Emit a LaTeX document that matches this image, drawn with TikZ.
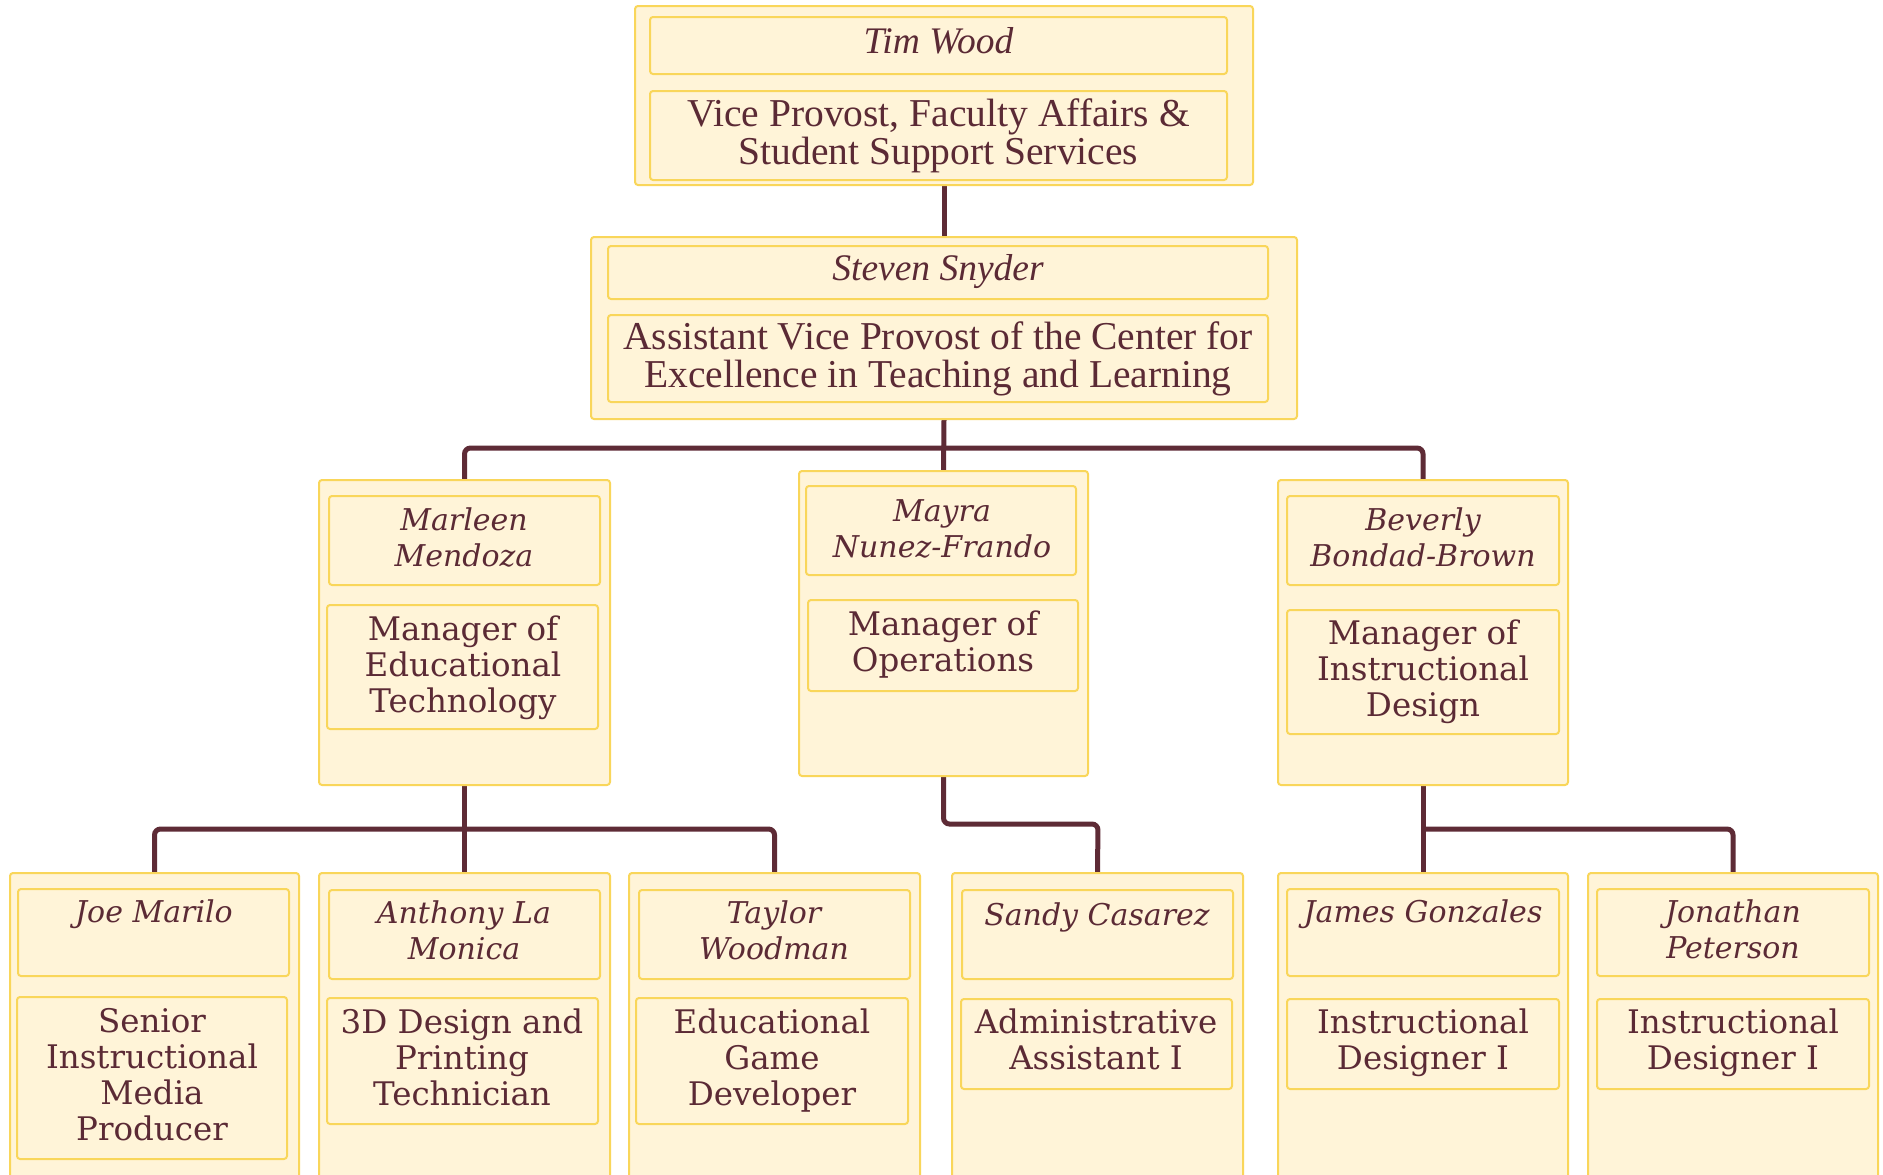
\documentclass[tikz,border=0pt]{standalone}
\usepackage{fontspec}
\setmainfont{DejaVu Serif}
\newfontfamily\topfont{Liberation Serif}
\usetikzlibrary{fit,backgrounds}
\definecolor{txt}{HTML}{5B2A35}
\definecolor{fillc}{HTML}{FFF4D8}
\definecolor{edgec}{HTML}{F9D65A}
\definecolor{connc}{HTML}{5E2B36}
\newcommand\ls[1]{\begin{tabular}[t]{@{}c@{}}#1\end{tabular}}
\begin{document}
\begin{tikzpicture}[x=1pt,y=-1pt,
 box/.style={draw=edgec, fill=fillc, line width=2pt, rounded corners=3pt, inner sep=0pt},
 lowtxt/.style={text=txt, anchor=base, inner sep=0pt, font=\fontsize{32.5}{36}\selectfont},
 lowname/.style={text=txt, anchor=base, inner sep=0pt, font=\fontsize{30}{36}\selectfont\itshape},
 toptxt/.style={text=txt, anchor=base, inner sep=0pt, font=\topfont\fontsize{39.5}{36}\selectfont},
 topname/.style={text=txt, anchor=base, inner sep=0pt, font=\topfont\fontsize{37.5}{36}\selectfont\itshape},
 link/.style={draw=connc, line width=5pt, rounded corners=6pt}]
\useasboundingbox (0,0) rectangle (1883,1175);

% level 0
\node[box, fit={(635,6)(1253,185)}] (tim) {};
\node[box, fit={(650,17)(1227,74)}] (timN) {};
\node[box, fit={(650,91)(1227,180)}] (timT) {};
\node[topname] (timNt) at (938.5,53) {Tim Wood};
\node[toptxt] (timTt) at (938.5,126) {\ls{Vice Provost, Faculty Affairs \&\\Student Support Services}};

% level 1
\node[box, fit={(591,237)(1297,419)}] (steven) {};
\node[box, fit={(608,246)(1268,299)}] (stevenN) {};
\node[box, fit={(608,315)(1268,402)}] (stevenT) {};
\node[topname] (stevenNt) at (938,280) {Steven Snyder};
\node[toptxt] (stevenTt) at (938,349) {\ls{Assistant Vice Provost of the Center for\\Excellence in Teaching and Learning}};

% level 2
\node[box, fit={(319,480)(610,785)}] (marleen) {};
\node[box, fit={(329,496)(600,585)}] (marleenN) {};
\node[box, fit={(327,605)(598,729)}] (marleenT) {};
\node[lowname] (marleenNt) at (464,530) {\ls{Marleen\\Mendoza}};
\node[lowtxt] (marleenTt) at (463,640) {\ls{Manager of\\Educational\\Technology}};

\node[box, fit={(799,471)(1088,776)}] (mayra) {};
\node[box, fit={(806,486)(1076,575)}] (mayraN) {};
\node[box, fit={(808,600)(1078,691)}] (mayraT) {};
\node[lowname] (mayraNt) at (942,521) {\ls{Mayra\\Nunez-Frando}};
\node[lowtxt] (mayraTt) at (943,635) {\ls{Manager of\\Operations}};

\node[box, fit={(1278,480)(1568,785)}] (beverly) {};
\node[box, fit={(1287,496)(1559,585)}] (beverlyN) {};
\node[box, fit={(1287,610)(1559,734)}] (beverlyT) {};
\node[lowname] (beverlyNt) at (1423,530) {\ls{Beverly\\Bondad-Brown}};
\node[lowtxt] (beverlyTt) at (1423,644) {\ls{Manager of\\Instructional\\Design}};

% level 3
\node[box, fit={(10,873)(299,1190)}] (joe) {};
\node[box, fit={(18,889)(289,976)}] (joeN) {};
\node[box, fit={(17,997)(287,1159)}] (joeT) {};
\node[lowname] (joeNt) at (154,922) {Joe Marilo};
\node[lowtxt] (joeTt) at (152,1032) {\ls{Senior\\Instructional\\Media\\Producer}};

\node[box, fit={(319,873)(610,1190)}] (anthony) {};
\node[box, fit={(329,890)(600,979)}] (anthonyN) {};
\node[box, fit={(327,998)(598,1124)}] (anthonyT) {};
\node[lowname] (anthonyNt) at (464,923) {\ls{Anthony La\\Monica}};
\node[lowtxt] (anthonyTt) at (462,1033) {\ls{3D Design and\\Printing\\Technician}};

\node[box, fit={(629,873)(920,1190)}] (taylor) {};
\node[box, fit={(639,890)(910,979)}] (taylorN) {};
\node[box, fit={(636,998)(908,1124)}] (taylorT) {};
\node[lowname] (taylorNt) at (774,923) {\ls{Taylor\\Woodman}};
\node[lowtxt] (taylorTt) at (772,1033) {\ls{Educational\\Game\\Developer}};

\node[box, fit={(952,873)(1243,1190)}] (sandy) {};
\node[box, fit={(962,890)(1233,979)}] (sandyN) {};
\node[box, fit={(961,999)(1232,1089)}] (sandyT) {};
\node[lowname] (sandyNt) at (1097,925) {Sandy Casarez};
\node[lowtxt] (sandyTt) at (1096,1033) {\ls{Administrative\\Assistant I}};

\node[box, fit={(1278,873)(1568,1190)}] (james) {};
\node[box, fit={(1287,889)(1559,976)}] (jamesN) {};
\node[box, fit={(1287,999)(1559,1089)}] (jamesT) {};
\node[lowname] (jamesNt) at (1423,922) {James Gonzales};
\node[lowtxt] (jamesTt) at (1423,1033) {\ls{Instructional\\Designer I}};

\node[box, fit={(1588,873)(1878,1190)}] (jonathan) {};
\node[box, fit={(1597,889)(1869,976)}] (jonathanN) {};
\node[box, fit={(1597,999)(1869,1089)}] (jonathanT) {};
\node[lowname] (jonathanNt) at (1733,922) {\ls{Jonathan\\Peterson}};
\node[lowtxt] (jonathanTt) at (1733,1033) {\ls{Instructional\\Designer I}};

\coordinate (busA) at (943,448);
\coordinate (busB) at (464,829);
\coordinate (busC) at (1098,824);
\coordinate (busD) at (1423,829);

\begin{scope}[on background layer]
\fill[white] (0,0) rectangle (1883,1175);
\draw[link] (tim.south) -- (steven.north);
\draw[link] (steven.south) -- (mayra.north);
\draw[link] (marleen.north) |- (busA) -| (beverly.north);
\draw[link] (marleen.south) -- (anthony.north);
\draw[link] (joe.north) |- (busB) -| (taylor.north);
\draw[link] (mayra.south) |- (busC) -- (sandy.north);
\draw[link] (beverly.south) -- (james.north);
\draw[link] (busD) -| (jonathan.north);
\end{scope}
\end{tikzpicture}
\end{document}
